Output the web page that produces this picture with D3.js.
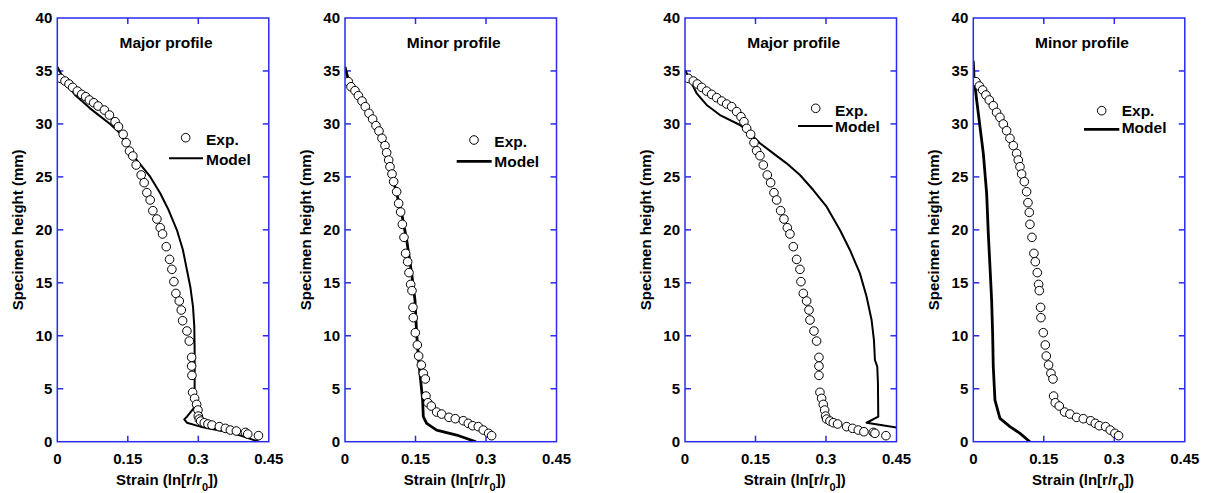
<!DOCTYPE html>
<html>
<head>
<meta charset="utf-8">
<script src="https://cdn.jsdelivr.net/npm/d3@7"></script>
<style>
body { margin: 0; background: #fff; }
svg text { font-family: Arial, "Liberation Sans", sans-serif; font-weight: bold; fill: #000; }
</style>
</head>
<body>
<div id="chart"></div>
<script>
// panel titles
var titles = ["Major profile", "Minor profile", "Major profile", "Minor profile"];
var xTicks = [0, 0.15, 0.3, 0.45];
var yTicks = [0, 5, 10, 15, 20, 25, 30, 35, 40];

// experimental points [strain, height]
var exp1 = [[0.0071,34.30],[0.0164,34.05],[0.0249,33.77],[0.0327,33.45],[0.0427,33.10],[0.0519,32.79],[0.0604,32.57],[0.0683,32.26],[0.0775,32.00],[0.0867,31.69],[0.1002,31.31],[0.1109,30.84],[0.1230,30.21],[0.1301,29.74],[0.1401,29.02],[0.1465,28.23],[0.1536,27.44],[0.1607,26.97],[0.1678,26.12],[0.1784,25.18],[0.1848,24.45],[0.1905,23.51],[0.1976,22.82],[0.2033,21.81],[0.2119,21.02],[0.2190,20.20],[0.2239,19.61],[0.2318,18.41],[0.2389,17.21],[0.2438,16.27],[0.2481,15.11],[0.2524,14.00],[0.2595,13.28],[0.2638,12.43],[0.2666,11.42],[0.2758,10.45],[0.2808,9.50],[0.2858,7.96],[0.2858,7.14],[0.2865,6.26],[0.2879,4.66],[0.2922,4.09],[0.2965,3.52],[0.2993,2.99],[0.3000,2.42],[0.3021,2.14],[0.3050,1.95],[0.3128,1.79],[0.3206,1.67],[0.3291,1.57],[0.3448,1.42],[0.3576,1.26],[0.3682,1.10],[0.3810,1.01],[0.4002,0.88],[0.4052,0.72],[0.4280,0.57]];
var exp2 = [[0.0071,33.99],[0.0128,33.51],[0.0213,33.14],[0.0284,32.67],[0.0362,32.16],[0.0432,31.63],[0.0510,31.00],[0.0588,30.46],[0.0659,29.84],[0.0723,29.33],[0.0787,28.64],[0.0851,27.95],[0.0886,27.29],[0.0929,26.59],[0.0957,25.96],[0.1000,25.27],[0.1035,24.55],[0.1099,23.60],[0.1142,22.50],[0.1184,21.68],[0.1220,20.52],[0.1255,19.29],[0.1290,17.78],[0.1333,16.99],[0.1361,15.96],[0.1397,14.85],[0.1425,14.26],[0.1446,12.68],[0.1453,11.71],[0.1496,10.29],[0.1539,9.13],[0.1567,8.09],[0.1624,7.24],[0.1666,6.45],[0.1709,5.92],[0.1723,4.31],[0.1765,3.68],[0.1836,3.37],[0.1950,2.80],[0.2056,2.61],[0.2212,2.30],[0.2347,2.17],[0.2517,1.98],[0.2623,1.73],[0.2716,1.51],[0.2836,1.42],[0.2942,1.10],[0.3056,0.79],[0.3120,0.57]];
var exp3 = [[0.0071,34.30],[0.0177,34.05],[0.0262,33.77],[0.0355,33.45],[0.0461,33.10],[0.0567,32.79],[0.0674,32.48],[0.0780,32.16],[0.0886,31.88],[0.0993,31.63],[0.1099,31.16],[0.1191,30.68],[0.1255,30.21],[0.1312,29.58],[0.1397,29.02],[0.1468,28.23],[0.1524,27.47],[0.1595,27.00],[0.1666,26.12],[0.1751,25.18],[0.1822,24.45],[0.1893,23.51],[0.1950,22.82],[0.2035,21.81],[0.2106,21.02],[0.2177,20.20],[0.2233,19.61],[0.2304,18.41],[0.2375,17.21],[0.2446,16.27],[0.2467,15.11],[0.2517,14.00],[0.2588,13.28],[0.2638,12.43],[0.2659,11.49],[0.2744,10.45],[0.2800,9.50],[0.2850,7.96],[0.2850,7.14],[0.2850,6.26],[0.2871,4.66],[0.2907,4.09],[0.2942,3.52],[0.2971,2.99],[0.2992,2.42],[0.3013,2.14],[0.3084,1.95],[0.3155,1.79],[0.3247,1.67],[0.3439,1.42],[0.3566,1.26],[0.3687,1.10],[0.3807,0.94],[0.4006,0.88],[0.4041,0.79],[0.4275,0.57]];
var exp4 = [[0.0057,33.99],[0.0128,33.58],[0.0199,33.20],[0.0269,32.73],[0.0340,32.26],[0.0425,31.72],[0.0496,31.09],[0.0567,30.62],[0.0638,29.99],[0.0709,29.36],[0.0780,28.64],[0.0851,27.95],[0.0922,27.22],[0.0957,26.59],[0.0993,25.96],[0.1028,25.27],[0.1085,24.55],[0.1134,23.60],[0.1163,22.57],[0.1191,21.65],[0.1205,20.52],[0.1248,19.29],[0.1290,17.78],[0.1319,16.99],[0.1361,15.96],[0.1390,14.85],[0.1404,14.26],[0.1432,12.68],[0.1439,11.71],[0.1489,10.29],[0.1531,9.13],[0.1553,8.09],[0.1602,7.24],[0.1652,6.45],[0.1695,5.92],[0.1709,4.31],[0.1744,3.68],[0.1829,3.37],[0.1943,2.80],[0.2056,2.61],[0.2198,2.30],[0.2340,2.17],[0.2496,1.98],[0.2595,1.73],[0.2680,1.51],[0.2815,1.42],[0.2914,1.10],[0.3013,0.79],[0.3091,0.57]];

// model curves [strain, height]
var model1 = [[0,35.40],[0.0057,34.93],[0.0164,33.99],[0.0377,32.73],[0.0697,31.47],[0.1123,29.99],[0.1337,29.11],[0.1479,28.01],[0.1692,26.59],[0.1976,25.02],[0.2190,23.45],[0.2368,21.87],[0.2545,19.98],[0.2673,18.10],[0.2758,16.21],[0.2830,14.63],[0.2887,12.75],[0.2915,10.86],[0.2922,8.65],[0.2922,3.93],[0.2900,3.15],[0.2758,2.36],[0.2701,2.11],[0.2758,1.79],[0.3043,1.42],[0.3754,0.79],[0.4287,0]];
var model2 = [[0,35.40],[0.0035,34.77],[0.0106,33.68],[0.0284,32.42],[0.0532,30.84],[0.0744,28.80],[0.0922,26.59],[0.1063,24.07],[0.1205,21.56],[0.1312,19.04],[0.1418,15.89],[0.1489,13.37],[0.1524,10.23],[0.1567,7.71],[0.1609,5.82],[0.1652,3.93],[0.1666,2.36],[0.1737,1.73],[0.1950,1.10],[0.2375,0.63],[0.2786,0]];
var model3 = [[0,35.09],[0.0106,34.15],[0.0248,32.89],[0.0461,31.79],[0.0744,30.84],[0.1170,29.90],[0.1382,29.11],[0.1595,28.17],[0.1879,27.22],[0.2162,26.28],[0.2446,25.18],[0.2729,23.76],[0.3013,22.19],[0.3297,19.98],[0.3509,18.10],[0.3722,15.89],[0.3864,13.69],[0.3970,11.49],[0.4020,9.60],[0.4041,7.71],[0.4091,7.08],[0.4105,5.51],[0.4112,2.36],[0.3864,1.79],[0.4500,1.35]];
var model4 = [[0,35.97],[0.0014,34.46],[0.0071,32.26],[0.0142,29.74],[0.0213,27.22],[0.0284,23.45],[0.0319,19.67],[0.0355,16.52],[0.0390,13.37],[0.0411,10.23],[0.0425,7.08],[0.0461,3.93],[0.0567,2.20],[0.0780,1.42],[0.0993,0.79],[0.1205,0]];

var expSets = [exp1, exp2, exp3, exp4];
var modelSets = [model1, model2, model3, model4];

var W = 1207, H = 493;
var blue = "#2b2bf0";
var plotW = 211.5, plotH = 423.7, plotTop = 18;
var lefts = [57.3, 345, 685, 973.3];
var lineW = [2, 2.8, 2, 2.8];
// legend placement per panel: circle x/y, text x, line y, baselines
var legends = [
	{cx: 128.4, cy: 137.7, tx: 148.7, ly: 158.3, l0: 111.7, l1: 145.7, b1: 145, b2: 165},
	{cx: 129, cy: 140, tx: 149.3, ly: 161.3, l0: 111.7, l1: 146.7, b1: 147, b2: 167},
	{cx: 130.7, cy: 108.3, tx: 150, ly: 126, l0: 113, l1: 147.7, b1: 115.7, b2: 131.7},
	{cx: 128.4, cy: 110.7, tx: 148.4, ly: 129.3, l0: 110.7, l1: 146, b1: 116, b2: 133.3}
];

var svg = d3.select("#chart").append("svg")
	.attr("width", W)
	.attr("height", H);

var x = d3.scaleLinear().domain([0, 0.45]).range([0, plotW]);
var y = d3.scaleLinear().domain([0, 40]).range([plotH, 0]);

var line = d3.line()
	.x(function (d) { return x(d[0]); })
	.y(function (d) { return y(d[1]); });

lefts.forEach(function (left, i) {
	var g = svg.append("g").attr("transform", "translate(" + left + "," + plotTop + ")");

	g.append("clipPath").attr("id", "clip" + i)
		.append("rect").attr("width", plotW).attr("height", plotH);

	// inward ticks on all four sides
	var ticks = g.append("g").attr("stroke", blue).attr("stroke-width", 1.5);
	xTicks.slice(1, -1).forEach(function (t) {
		ticks.append("line").attr("x1", x(t)).attr("x2", x(t)).attr("y1", plotH).attr("y2", plotH - 6);
		ticks.append("line").attr("x1", x(t)).attr("x2", x(t)).attr("y1", 0).attr("y2", 6);
	});
	yTicks.slice(1, -1).forEach(function (t) {
		ticks.append("line").attr("x1", 0).attr("x2", 6).attr("y1", y(t)).attr("y2", y(t));
		ticks.append("line").attr("x1", plotW).attr("x2", plotW - 6).attr("y1", y(t)).attr("y2", y(t));
	});

	// tick labels
	g.selectAll("text.xt").data(xTicks).enter().append("text")
		.attr("class", "xt")
		.attr("x", function (d) { return x(d); })
		.attr("y", plotH + 22.5)
		.attr("text-anchor", "middle")
		.style("font-size", "15px")
		.text(function (d) { return d; });
	g.selectAll("text.yt").data(yTicks).enter().append("text")
		.attr("class", "yt")
		.attr("x", -5)
		.attr("y", function (d) { return y(d) + 5.3; })
		.attr("text-anchor", "end")
		.style("font-size", "15px")
		.text(function (d) { return d; });

	// axis titles
	var xl = g.append("text")
		.attr("x", plotW / 2 + 4)
		.attr("y", plotH + 43.5)
		.attr("text-anchor", "middle")
		.style("font-size", "15px");
	xl.append("tspan").text("Strain (ln[r/r");
	xl.append("tspan").attr("dy", 6).style("font-size", "11px").text("0");
	xl.append("tspan").attr("dy", -6).text("])");

	g.append("text")
		.attr("transform", "translate(-34," + (plotH / 2) + ") rotate(-90)")
		.attr("text-anchor", "middle")
		.style("font-size", "15px")
		.text("Specimen height (mm)");

	// title
	g.append("text")
		.attr("x", plotW / 2 + 3)
		.attr("y", 48 - plotTop)
		.attr("text-anchor", "middle")
		.style("font-size", "15.5px")
		.text(titles[i]);

	var plot = g.append("g").attr("clip-path", "url(#clip" + i + ")");

	plot.append("path")
		.datum(modelSets[i])
		.attr("d", line)
		.attr("fill", "none")
		.attr("stroke", "#000")
		.attr("stroke-width", lineW[i])
		.attr("stroke-linejoin", "round");

	plot.selectAll("circle").data(expSets[i]).enter().append("circle")
		.attr("cx", function (d) { return x(d[0]); })
		.attr("cy", function (d) { return y(d[1]); })
		.attr("r", 4.3)
		.attr("fill", "#fff")
		.attr("stroke", "#000")
		.attr("stroke-width", 1);

	// frame
	g.append("rect")
		.attr("width", plotW).attr("height", plotH)
		.attr("fill", "none")
		.attr("stroke", blue)
		.attr("stroke-width", 1.5);

	// legend
	var lg = legends[i];
	g.append("circle")
		.attr("cx", lg.cx).attr("cy", lg.cy - plotTop).attr("r", 4.3)
		.attr("fill", "#fff").attr("stroke", "#000").attr("stroke-width", 1);
	g.append("text").attr("x", lg.tx).attr("y", lg.b1 - plotTop)
		.style("font-size", "15.5px").text("Exp.");
	g.append("line")
		.attr("x1", lg.l0).attr("x2", lg.l1)
		.attr("y1", lg.ly - plotTop).attr("y2", lg.ly - plotTop)
		.attr("stroke", "#000").attr("stroke-width", lineW[i]);
	g.append("text").attr("x", lg.tx).attr("y", lg.b2 - plotTop)
		.style("font-size", "15.5px").text("Model");
});
</script>
</body>
</html>
